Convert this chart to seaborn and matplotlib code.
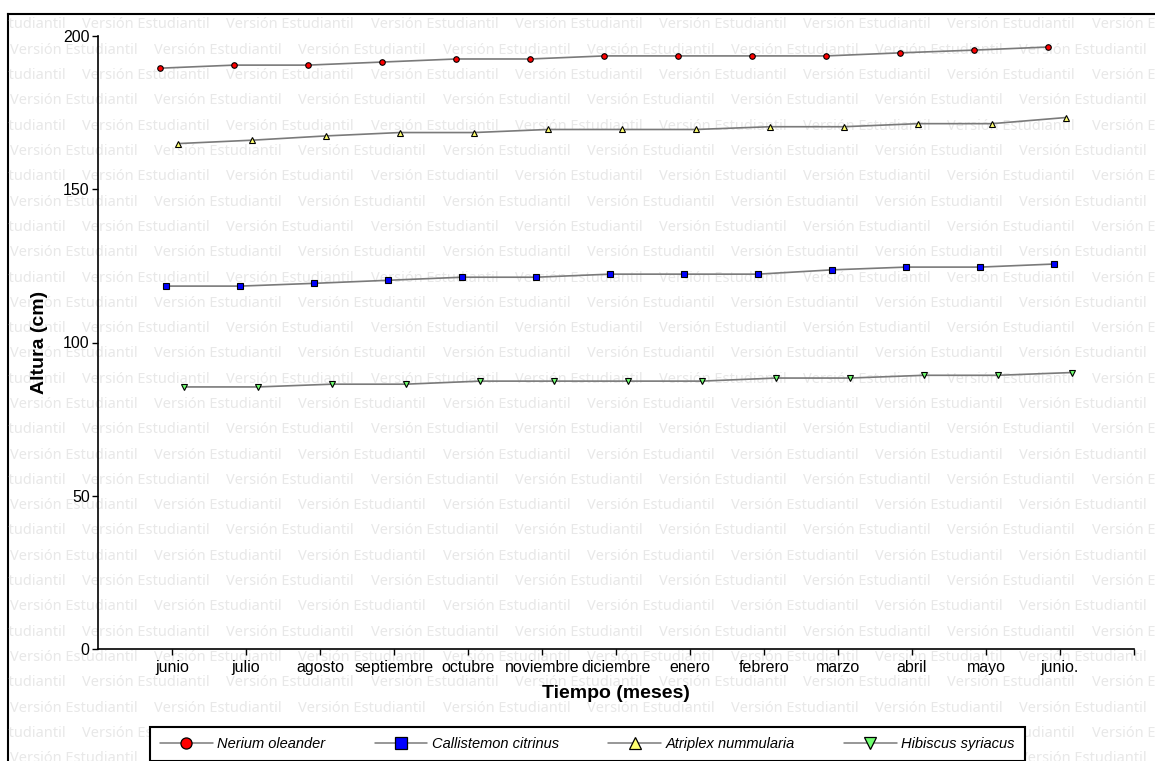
import numpy as np
import pandas as pd
import matplotlib
matplotlib.use("Agg")
import matplotlib.pyplot as plt
import seaborn as sns
from matplotlib.lines import Line2D

# Data
meses = ["junio", "julio", "agosto", "septiembre", "octubre", "noviembre",
         "diciembre", "enero", "febrero", "marzo", "abril", "mayo", "junio."]
especies = ["Nerium oleander", "Callistemon citrinus",
            "Atriplex nummularia", "Hibiscus syriacus"]
nerium = [189.5, 190.5, 190.5, 191.5, 192.5, 192.5, 193.5,
          193.5, 193.5, 193.5, 194.5, 195.4, 196.4]
callistemon = [118.4, 118.4, 119.3, 120.3, 121.3, 121.3, 122.3,
               122.3, 122.3, 123.7, 124.6, 124.6, 125.6]
atriplex = [164.9, 166.0, 167.4, 168.5, 168.5, 169.5, 169.5,
            169.5, 170.4, 170.4, 171.4, 171.4, 173.4]
hibiscus = [85.5, 85.5, 86.4, 86.4, 87.4, 87.4, 87.4,
            87.4, 88.4, 88.4, 89.3, 89.3, 90.2]
y_ticks = [0, 50, 100, 150, 200]

df = pd.DataFrame({
    "mes": np.tile(np.arange(1, len(meses) + 1), len(especies)),
    "especie": np.repeat(especies, len(meses)),
    "altura": np.concatenate([nerium, callistemon, atriplex, hibiscus]),
})

# per-series dodge and symbol style
offsets = {"Nerium oleander": -0.16, "Callistemon citrinus": -0.08,
           "Atriplex nummularia": 0.08, "Hibiscus syriacus": 0.16}
markers = {"Nerium oleander": ("o", "#ff0000", 4.0),
           "Callistemon citrinus": ("s", "#0000ff", 3.8),
           "Atriplex nummularia": ("^", "#ffff70", 4.4),
           "Hibiscus syriacus": ("v", "#70ff70", 4.4)}
LINE_COLOR = "#7a7a7a"

sns.set_theme(style="ticks", rc={
    "text.color": "black", "axes.labelcolor": "black",
    "xtick.color": "black", "ytick.color": "black",
    "axes.edgecolor": "black",
})
plt.rcParams["font.family"] = ["Liberation Sans", "DejaVu Sans"]

W, H = 1155, 761
fig = plt.figure(figsize=(W / 100, H / 100), dpi=100)

# watermark layer with page frame
bg = fig.add_axes([8 / W, 0, 1 - 8 / W, 1 - 14 / H])
bg.set_xlim(8, W)
bg.set_ylim(H, 14)
bg.set_xticks([])
bg.set_yticks([])
for side in ["right", "bottom"]:
    bg.spines[side].set_visible(False)
for side in ["left", "top"]:
    bg.spines[side].set_linewidth(1.5)
    bg.spines[side].set_color("black")
for k, yy in enumerate(np.arange(25, H + 10, 25.3)):
    x0 = -62 if k % 2 == 0 else 10
    for xx in np.arange(x0, W, 144.2):
        bg.text(xx, yy, "Versión Estudiantil", fontsize=10.5,
                family="Noto Sans", fontstretch="condensed",
                color="#e8e8e8", ha="left", va="center", clip_on=True)

# main plot
ax = fig.add_axes([98 / W, 1 - 649 / H, 1036 / W, 613 / H])
ax.patch.set_alpha(0)

for esp in especies:
    sub = df[df["especie"] == esp]
    m, fc, ms = markers[esp]
    sns.lineplot(x=sub["mes"] + offsets[esp], y=sub["altura"], ax=ax,
                 color=LINE_COLOR, lw=1.2, marker=m, markersize=ms,
                 markerfacecolor=fc, markeredgecolor="black",
                 markeredgewidth=0.8, errorbar=None, legend=False)

ax.set_xlim(0, len(meses) + 1)
ax.set_ylim(0, 200)
ax.set_xticks(np.arange(1, len(meses) + 2))
ax.set_xticklabels(meses + [""])
ax.set_yticks(y_ticks)
ax.tick_params(direction="out", length=4, width=1, labelsize=11.5)
ax.tick_params(axis="x", pad=4)
ax.tick_params(axis="y", pad=2)
sns.despine(ax=ax)
for side in ["left", "bottom"]:
    ax.spines[side].set_linewidth(1.2)

ax.set_xlabel("Tiempo (meses)", fontsize=14, fontweight="bold")
ax.set_ylabel("Altura (cm)", fontsize=14, fontweight="bold")
ax.xaxis.set_label_coords(0.5, -0.058)
ax.yaxis.set_label_coords(-0.048, 0.5)

handles = []
for esp in especies:
    m, fc, ms = markers[esp]
    handles.append(Line2D([], [], color=LINE_COLOR, lw=1.1, marker=m,
                          markersize=8, markerfacecolor=fc,
                          markeredgecolor="black", markeredgewidth=0.9))
leg = fig.legend(handles, especies, loc="upper left",
                 bbox_to_anchor=(150 / W, 1 - 727 / H), ncol=4,
                 frameon=True, fancybox=False, edgecolor="black",
                 prop={"style": "italic", "size": 10.5},
                 handlelength=3.6, handletextpad=0.3, columnspacing=3.4,
                 borderpad=0.7, borderaxespad=0)
leg.get_frame().set_linewidth(1.5)
leg.get_frame().set_alpha(1)

fig.savefig("out.png", dpi=100)
plt.close(fig)
